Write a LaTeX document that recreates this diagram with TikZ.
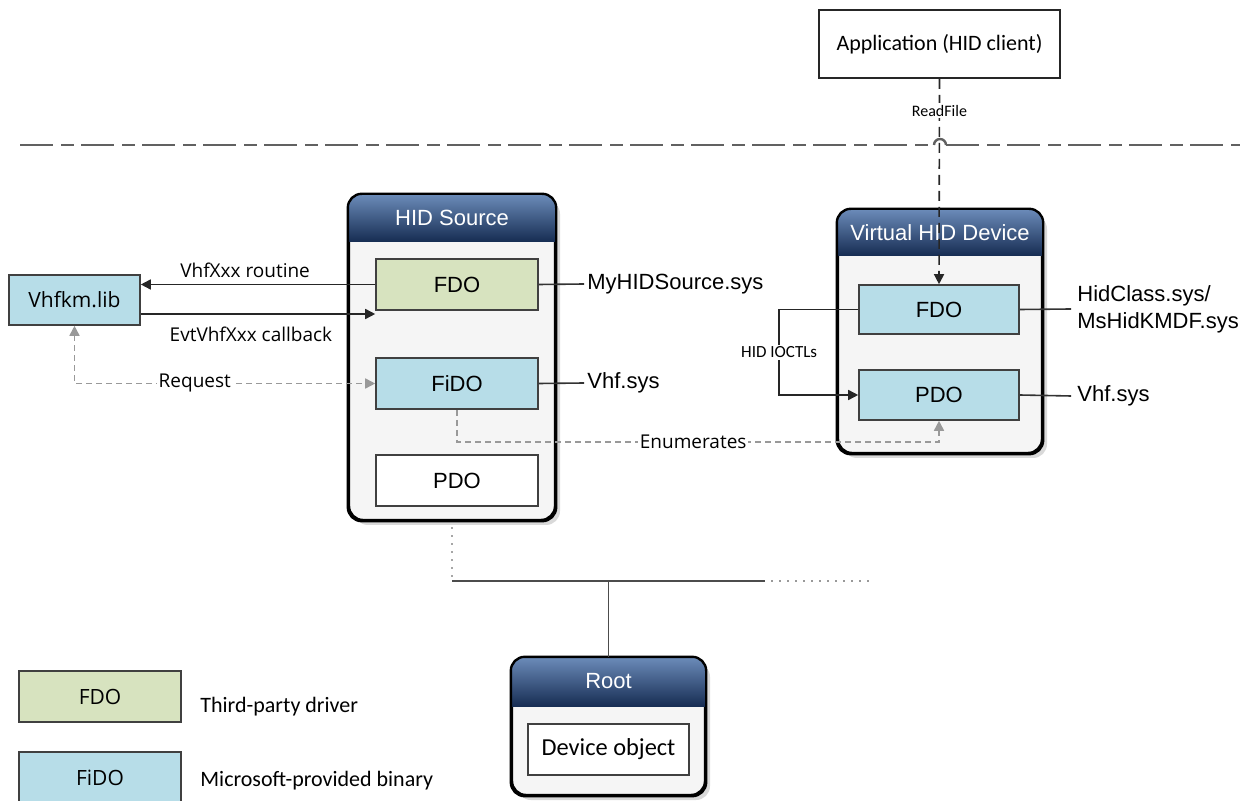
\documentclass[tikz,border=0pt]{standalone}
\usepackage{fontspec}
\setmainfont{Liberation Sans}
\newfontfamily\uifont{Open Sans}
\newfontfamily\calfont{Carlito}
\usetikzlibrary{arrows.meta, positioning, calc, shadows}

\definecolor{thirdgreen}{RGB}{215,227,191}
\definecolor{msblue}{RGB}{183,221,232}
\definecolor{hdrtop}{RGB}{108,140,186}
\definecolor{hdrmid}{RGB}{58,88,134}
\definecolor{hdrbot}{RGB}{22,44,82}

\begin{document}
\begin{tikzpicture}[
    x=0.5pt, y=-0.5pt,
    font=\fontsize{11}{13.5}\selectfont,
    >={Triangle[length=5pt,width=5pt]},
    obj/.style     ={draw=black!75, line width=0.8pt, minimum width=81pt,
                     minimum height=25.5pt, inner sep=0pt},
    tpd/.style     ={obj, fill=thirdgreen},
    msb/.style     ={obj, fill=msblue},
    shell/.style   ={draw=black, line width=1.2pt, rounded corners=7pt, fill=black!4,
                     inner sep=0pt,
                     drop shadow={shadow xshift=2.5pt, shadow yshift=-2.5pt,
                                  opacity=0.25, fill=black!60}},
    hdrband/.style ={top color=hdrtop, middle color=hdrmid, bottom color=hdrbot},
    hdr/.style     ={text=white},
    flow/.style    ={->, line width=0.8pt, draw=black!85},
    tie/.style     ={line width=0.8pt, draw=black!80},
    req/.style     ={densely dashed, line width=0.8pt, draw=black!40,
                     >={Triangle[length=5pt,width=5pt,fill=black!40]}},
    rf/.style      ={->, line width=0.8pt, draw=black!85, dash pattern=on 5pt off 3pt},
    sep/.style     ={line width=1.2pt, draw=black!62,
                     dash pattern=on 16.5pt off 4pt on 6.5pt off 3.5pt},
    bus/.style     ={line width=1pt, draw=black!70},
    elbl/.style    ={font=\uifont\fontsize{9.5}{11}\selectfont, fill=white, inner sep=1pt},
    note/.style    ={font=\calfont\fontsize{11}{13}\selectfont, anchor=west, inner sep=0pt},
    sysl/.style    ={anchor=west, inner sep=1.5pt},
  ]
  \useasboundingbox (0,0) rectangle (1252,801);

  % user / kernel boundary
  \draw[sep] (20,145) -- (934,145);
  \draw[line width=1.2pt, draw=black!62] (934,145) arc[start angle=180, end angle=360, radius=6];
  \draw[sep] (946,145) -- (1240,145);

  \node[draw=black!85, line width=0.8pt, minimum width=120.5pt, minimum height=34pt,
        font=\calfont\fontsize{11}{13}\selectfont] (app) at (939.5,44) {Application (HID client)};

  % device stacks
  \node[shell, minimum width=103pt, minimum height=162.5pt] (src) at (452,357.5) {};
  \node[shell, minimum width=102pt, minimum height=121.5pt] (vhd) at (940,331.5) {};
  \node[shell, minimum width=96.5pt, minimum height=68.5pt] (root) at (608.5,726.5) {};
  \foreach \c/\t/\h in {src/HID Source/24pt, vhd/Virtual HID Device/23.5pt, root/Root/25pt}{
    \begin{scope}
      \clip[rounded corners=7pt] (\c.north west) rectangle (\c.south east);
      \shade[hdrband] (\c.north west) rectangle ($(\c.north east)+(0pt,-\h)$);
    \end{scope}
    \draw[line width=1.2pt, rounded corners=7pt] (\c.north west) rectangle (\c.south east);
    \node[hdr] (\c-hd) at ($(\c.north)+(0pt,-12pt)$) {\t};
  }

  \node[tpd] (fdo)  at (457,284.5) {FDO};
  \node[msb] (fido) at (457,383.5) {FiDO};
  \node[obj, fill=white] (pdo) at (457,480.5) {PDO};

  \node[msb, minimum width=80pt, minimum height=24.5pt] (vfdo) at (939,309.5) {FDO};
  \node[msb, minimum width=80pt, minimum height=25pt]   (vpdo) at (939,395) {PDO};

  \node[obj, fill=white, minimum width=80.5pt, font=\calfont\fontsize{12.2}{14}\selectfont]
        (devobj) at (608.5,749.5) {Device object};

  \node[msb, minimum width=65.5pt, minimum height=25pt,
        font=\uifont\fontsize{10.5}{12}\selectfont] (lib) at (74.5,300) {Vhfkm.lib};

  % binaries
  \node[sysl] (mysys)  at (584,284) {MyHIDSource.sys};
  \node[sysl] (vhfsys) at (584,383) {Vhf.sys};
  \node[sysl, inner sep=3pt, align=left] (hidcls) at (1071,309) {HidClass.sys/\\MsHidKMDF.sys};
  \node[sysl, inner sep=3pt] (vhfsys2) at (1071,396) {Vhf.sys};
  \draw[tie] (fdo.east)  -- (mysys.west);
  \draw[tie] (fido.east) -- (vhfsys.west);
  \draw[tie] (vfdo.east) -- (hidcls.west);
  \draw[tie] (vpdo.east) -- (vhfsys2.west);

  % calls
  \coordinate (cbk) at ($(lib.east)+(0,14)$);
  \draw[flow] (fdo.west) -- node[elbl, fill=none, above=2pt, pos=0.555]{VhfXxx routine} (fdo.west -| lib.east);
  \draw[flow] (cbk) -- node[elbl, fill=none, below=5pt, pos=0.47]{EvtVhfXxx callback} (cbk -| fdo.west);
  \draw[req, <->] (lib.south) |- node[elbl, pos=0.7]{Request} (fido.west);
  \draw[req, ->] (fido.south) -- ++(0,32) -| node[elbl, pos=0.245]{Enumerates} (vpdo.south);
  \draw[flow] (vfdo.west) -- ++(-79,0) |- node[elbl, pos=0.25,
        font=\calfont\fontsize{8.5}{10}\selectfont]{HID IOCTLs} (vpdo.west);
  \draw[rf] (app.south) -- node[elbl, pos=0.155,
        font=\calfont\fontsize{8}{10}\selectfont]{ReadFile} (vfdo.north);

  % bus
  \coordinate (busL) at (452,581);
  \coordinate (busR) at (765,581);
  \coordinate (busE) at (875,581);
  \draw[bus] (busL) -- (busR);
  \draw[bus, draw=black!40, dash pattern=on 1pt off 3pt] ($(busR)+(6,0)$) -- (busE);
  \draw[line width=0.8pt, draw=black!35, dash pattern=on 1pt off 3pt]
        ($(src.south)+(0,6)$) -- (src.south |- busL);
  \draw[bus, line width=0.8pt] (root.north) -- (root.north |- busL);

  % legend
  \node[tpd, font=\uifont\fontsize{10.5}{12}\selectfont] (keytpd) at (100,696.5) {FDO};
  \node[msb, font=\uifont\fontsize{10.5}{12}\selectfont] (keyms)  at (100,777.5) {FiDO};
  \node[note] (keytpdl) at (200,707) {Third-party driver};
  \node[note] (keymsl)  at (200,781) {Microsoft-provided binary};
\end{tikzpicture}
\end{document}
